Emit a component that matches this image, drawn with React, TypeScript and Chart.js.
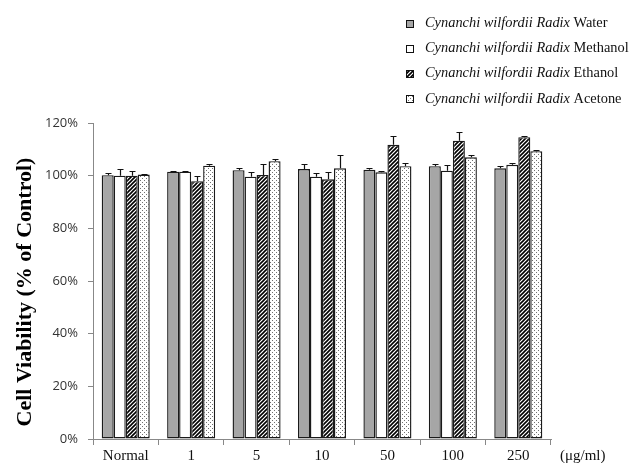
import React, { useEffect, useRef } from "react";
import { Chart, registerables } from "chart.js";

Chart.register(...registerables);

const categories = ["Normal", "1", "5", "10", "50", "100", "250"];
const seriesNames = ["Water", "Methanol", "Ethanol", "Acetone"];
const waterValues = [100.2, 101.5, 102.1, 102.5, 102.2, 103.6, 102.8];
const waterErrors = [0.8, 0.3, 0.9, 1.8, 0.6, 0.8, 1.0];
const methanolValues = [100.0, 101.5, 99.6, 99.6, 101.3, 101.9, 104.1];
const methanolErrors = [2.6, 0.3, 1.7, 1.5, 0.6, 2.0, 0.9];
const ethanolValues = [100.0, 97.9, 100.3, 98.6, 111.7, 113.3, 114.6];
const ethanolErrors = [1.7, 2.1, 4.1, 2.8, 3.5, 3.2, 0.5];
const acetoneValues = [100.4, 103.8, 105.5, 102.8, 103.6, 107.0, 109.3];
const acetoneErrors = [0.3, 0.5, 1.0, 5.0, 1.1, 0.8, 0.3];
const yTicks = [0, 20, 40, 60, 80, 100, 120];
const yTitle = "Cell Viability (% of Control)";
const legendPrefix = "Cynanchi wilfordii Radix";
const unitLabel = "(\u03bcg/ml)";

function hatchPattern(): CanvasPattern | string {
  const c = document.createElement("canvas");
  c.width = 4;
  c.height = 4;
  const g = c.getContext("2d");
  if (!g) return "#888";
  g.fillStyle = "#ffffff";
  g.fillRect(0, 0, 4, 4);
  g.strokeStyle = "#000000";
  g.lineWidth = 1.6;
  g.beginPath();
  g.moveTo(-1, 5);
  g.lineTo(5, -1);
  g.moveTo(-1, 1);
  g.lineTo(1, -1);
  g.moveTo(3, 5);
  g.lineTo(5, 3);
  g.stroke();
  return g.createPattern(c, "repeat") || "#888";
}

function dotPattern(): CanvasPattern | string {
  const c = document.createElement("canvas");
  c.width = 4;
  c.height = 4;
  const g = c.getContext("2d");
  if (!g) return "#eee";
  g.fillStyle = "#ffffff";
  g.fillRect(0, 0, 4, 4);
  g.fillStyle = "#707070";
  g.fillRect(0, 0, 1, 1);
  g.fillRect(2, 2, 1, 1);
  return g.createPattern(c, "repeat") || "#eee";
}

export default function App() {
  const ref = useRef<HTMLCanvasElement | null>(null);

  useEffect(() => {
    const canvas = ref.current;
    if (!canvas) return;
    const hatch = hatchPattern();
    const dots = dotPattern();
    const fills: any[] = ["#a6a6a6", "#ffffff", hatch, dots];
    const values = [waterValues, methanolValues, ethanolValues, acetoneValues];
    const errors = [waterErrors, methanolErrors, ethanolErrors, acetoneErrors];

    const errorBarPlugin = {
      id: "errorBars",
      afterDatasetsDraw(chart: any) {
        const ctx = chart.ctx;
        const yScale = chart.scales.y;
        ctx.save();
        ctx.strokeStyle = "#111";
        ctx.lineWidth = 1.2;
        chart.data.datasets.forEach((ds: any, di: number) => {
          const meta = chart.getDatasetMeta(di);
          meta.data.forEach((el: any, i: number) => {
            const v = ds.data[i];
            const e = errors[di][i];
            const x = Math.round(el.x) + 0.5;
            const y0 = yScale.getPixelForValue(v);
            const y1 = Math.round(yScale.getPixelForValue(v + e)) + 0.5;
            ctx.beginPath();
            ctx.moveTo(x, y0);
            ctx.lineTo(x, y1);
            ctx.moveTo(x - 3, y1);
            ctx.lineTo(x + 3, y1);
            ctx.stroke();
          });
        });
        ctx.restore();
      },
    };

    const decorPlugin = {
      id: "decor",
      afterDraw(chart: any) {
        const ctx = chart.ctx;
        ctx.save();
        ctx.translate(25, 292);
        ctx.rotate(-Math.PI / 2);
        ctx.font = "bold 22px 'Liberation Serif'";
        ctx.fillStyle = "#000";
        ctx.textAlign = "center";
        ctx.textBaseline = "middle";
        ctx.fillText(yTitle, 0, 0);
        ctx.restore();

        ctx.save();
        ctx.font = "15px 'Liberation Serif'";
        ctx.fillStyle = "#111";
        ctx.textAlign = "left";
        ctx.textBaseline = "middle";
        ctx.fillText(unitLabel, 560, 456);
        ctx.restore();

        ctx.save();
        seriesNames.forEach((name, i) => {
          const cy = 23 + i * 25.3;
          const bx = 406.5;
          const by = Math.round(cy - 3.5) + 0.5;
          ctx.fillStyle = fills[i];
          ctx.fillRect(bx, by, 7, 7);
          ctx.strokeStyle = "#111";
          ctx.lineWidth = 1;
          ctx.strokeRect(bx, by, 7, 7);
          ctx.textBaseline = "middle";
          ctx.textAlign = "left";
          ctx.fillStyle = "#111";
          ctx.font = "italic 14.4px 'Liberation Serif'";
          ctx.fillText(legendPrefix, 425, cy);
          const w = ctx.measureText(legendPrefix + " ").width;
          ctx.font = "14.4px 'Liberation Serif'";
          ctx.fillText(name, 425 + w, cy);
        });
        ctx.restore();
      },
    };

    const chart = new Chart(canvas, {
      type: "bar",
      data: {
        labels: categories,
        datasets: seriesNames.map((name, i) => ({
          label: name,
          data: values[i],
          backgroundColor: fills[i],
          borderColor: "#1a1a1a",
          borderWidth: 1.4,
          borderSkipped: false,
          categoryPercentage: 0.734,
          barPercentage: 1.0,
        })),
      },
      options: {
        responsive: false,
        animation: false,
        layout: { padding: { top: 123, right: 79, left: 0, bottom: 0 } },
        plugins: {
          legend: { display: false },
          tooltip: { enabled: false },
          title: { display: false },
        },
        scales: {
          x: {
            afterFit(scale: any) {
              scale.height = 24;
            },
            grid: {
              offset: true,
              drawOnChartArea: false,
              drawTicks: true,
              tickLength: 6,
              color: "#888",
            },
            border: { display: true, color: "#888", width: 1 },
            ticks: {
              color: "#111",
              padding: 2,
              font: { family: "'Liberation Serif'", size: 15 },
              maxRotation: 0,
            },
          },
          y: {
            min: 0,
            max: 120,
            afterFit(scale: any) {
              scale.width = 93;
            },
            afterBuildTicks(scale: any) {
              scale.ticks = yTicks.map((v) => ({ value: v }));
            },
            grid: {
              drawOnChartArea: false,
              drawTicks: true,
              tickLength: 5,
              color: "#888",
            },
            border: { display: true, color: "#888", width: 1 },
            ticks: {
              color: "#333",
              padding: 10,
              font: { family: "'Open Sans'", size: 13 },
              callback: (v: any) => v + "%",
            },
          },
        },
      },
      plugins: [errorBarPlugin, decorPlugin],
    });
    return () => chart.destroy();
  }, []);

  return (
    <div style={{ position: "fixed", left: 0, top: 0, width: 630, height: 463, background: "#fff" }}>
      <canvas ref={ref} width={630} height={463} style={{ display: "block" }} />
    </div>
  );
}
